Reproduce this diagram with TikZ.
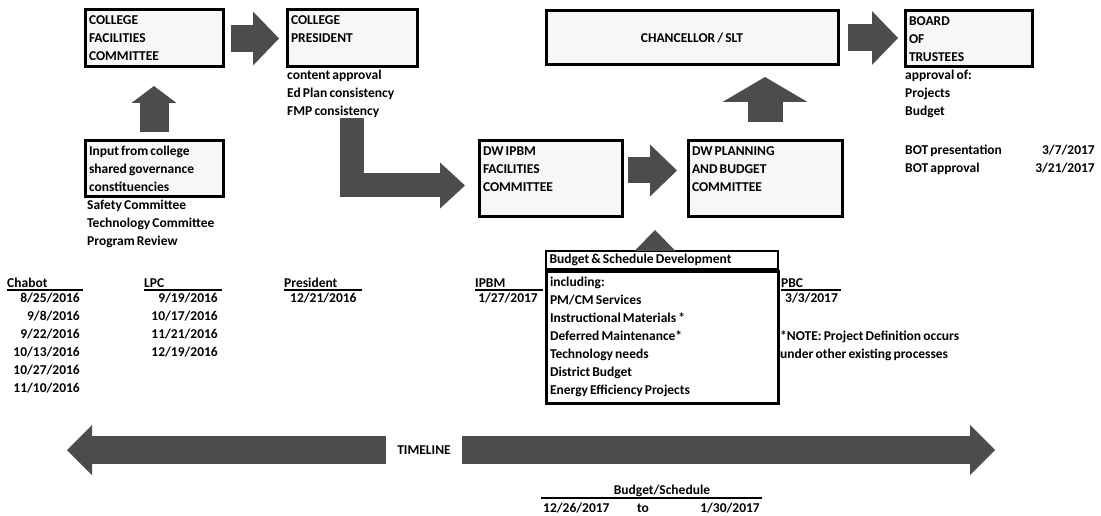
\documentclass[tikz,border=0pt]{standalone}
\usepackage{fontspec}
\setmainfont{Carlito}[WordSpace=0.7]
\usetikzlibrary{arrows.meta,positioning,calc}

\begin{document}
\begin{tikzpicture}[x=1pt,y=-1pt,
  font=\fontsize{13.5}{18}\selectfont\bfseries,
  box/.style={draw, line width=3pt, fill=black!3, anchor=north west, inner xsep=4pt, inner ysep=0pt, align=flush left},
  notes/.style={anchor=north west, inner sep=0pt, align=left},
  colhead/.style={anchor=base west, inner sep=0pt, text width=#1, align=flush left},
  rule/.style={line width=2.5pt},
  blockarrow/.style n args={3}{line width=#1, draw=black!70, -{Triangle[length=#2,width=#3,line width=0pt]}}
]
  \useasboundingbox (0,0) rectangle (1101,516);

  \node[box, text width=130pt, minimum height=57pt] (cfc) at (83.5,8.5) {COLLEGE\\FACILITIES\\COMMITTEE};
  \node[box, text width=122pt, minimum height=57pt] (cp) at (285.5,8.5) {COLLEGE\\PRESIDENT\\~};
  \node[box, text width=284pt, minimum height=54pt, align=flush center] (chancellor) at (544.5,9.5) {CHANCELLOR / SLT};
  \node[box, text width=119pt, minimum height=56pt] (board) at (903.5,9.5) {BOARD\\OF\\TRUSTEES};
  \node[box, text width=130pt, minimum height=56pt] (input) at (83.5,139.5) {Input from college\\shared governance\\constituencies};
  \node[box, text width=135pt, minimum height=75pt] (ipbm) at (477.5,139.5) {DW IPBM\\FACILITIES\\COMMITTEE\\~};
  \node[box, text width=146pt, minimum height=75pt] (pbc) at (686.5,139.5) {DW PLANNING\\AND BUDGET\\COMMITTEE\\~};
  \node[box, fill=white, text width=224pt, minimum height=131.5pt] (budget) at (544.5,270) {including:\\PM/CM Services\\Instructional Materials *\\Deferred Maintenance*\\Technology needs\\District Budget\\Energy Efficiency Projects};
  \node[box, fill=white, line width=2pt, text width=224pt, minimum height=18.5pt, anchor=south west] (budgettitle) at (budget.north west) {Budget \& Schedule Development};

  \node[notes] (cpnotes) at (287,70) {content approval\\Ed Plan consistency\\FMP consistency};
  \node[notes] (inputnotes) at (87,200) {Safety Committee\\Technology Committee\\Program Review};
  \node[notes] (boardnotes) at (905,70) {approval of:\\Projects\\Budget};
  \node[notes] (botlabels) at (905,145) {BOT presentation\\BOT approval};
  \node[notes, anchor=north east, align=right] (botdates) at (1095,145) {3/7/2017\\3/21/2017};
  \node[notes] (note) at (780,331) {*NOTE: Project Definition occurs\\under other existing processes};

  \node[colhead=76pt] (chabot) at (7,287) {Chabot};
  \node[colhead=78pt] (lpc) at (144,287) {LPC};
  \node[colhead=78pt] (president) at (284,287) {President};
  \node[colhead=68pt] (ipbmhead) at (475,287) {IPBM};
  \node[colhead=60pt] (pbchead) at (781,287) {PBC};
  \foreach \h in {chabot,lpc,president,ipbmhead,pbchead}
    \draw[rule] ([yshift=-3pt]\h.base west) -- ([yshift=-3pt]\h.base east);

  \node[notes, anchor=north east, align=right] (chabotdates) at (80,293) {8/25/2016\\9/8/2016\\9/22/2016\\10/13/2016\\10/27/2016\\11/10/2016};
  \node[notes, anchor=north east, align=right] (lpcdates) at (218,293) {9/19/2016\\10/17/2016\\11/21/2016\\12/19/2016};
  \node[notes] (presdate) at (290,293) {12/21/2016};
  \node[notes, anchor=north east] (ipbmdate) at (538,293) {1/27/2017};
  \node[notes] (pbcdate) at (785,293) {3/3/2017};

  \node[anchor=base, inner sep=0pt] (bsched) at (662,494) {Budget/Schedule};
  \draw[rule] ([xshift=-121pt,yshift=-4pt]bsched.base) -- ([xshift=100pt,yshift=-4pt]bsched.base);
  \node[anchor=base west, inner sep=0pt] (bstart) at (543,512) {12/26/2017};
  \node[anchor=base, inner sep=0pt] (bto) at (643,512) {to};
  \node[anchor=base east, inner sep=0pt] (bend) at (760,512) {1/30/2017};

  \coordinate (tlleft) at (67,450);
  \coordinate (tlright) at (995,450);
  \coordinate (merge) at ($(ipbm.south east)!.5!(pbc.south west)$);
  \node[fill=white, minimum width=76pt, inner sep=0pt] (timeline) at (424,450) {TIMELINE};

  \draw[blockarrow={27pt}{26pt}{54pt}, shorten <=6.5pt, shorten >=6.5pt] (cfc.east) -- (cp.west);
  \draw[blockarrow={27pt}{26pt}{54pt}, shorten <=8.5pt, shorten >=5.5pt] (chancellor.east) -- (chancellor.east -| board.west);
  \draw[blockarrow={26pt}{27pt}{52pt}, shorten <=4.5pt, shorten >=9.5pt] ([yshift=8pt]ipbm.east) -- ([yshift=8pt]pbc.west);
  \draw[blockarrow={29pt}{17pt}{45pt}, shorten <=7.5pt, shorten >=17.5pt] (input.north) -- (cfc.south);
  \draw[blockarrow={35pt}{25pt}{85pt}, shorten <=17.5pt, shorten >=10.5pt] (pbc.north) -- (pbc.north |- chancellor.south);
  \draw[blockarrow={13pt}{21pt}{41pt}, shorten >=12.5pt] (budgettitle.north -| merge) -- (merge);
  \draw[blockarrow={24pt}{25pt}{46pt}, line join=miter, shorten >=12.5pt] (cpnotes.south -| cp.south) |- ([yshift=-7pt]ipbm.west);
  \draw[blockarrow={28pt}{25pt}{50pt}] (timeline.west) -- (tlleft);
  \draw[blockarrow={28pt}{25pt}{50pt}] (timeline.east) -- (tlright);
\end{tikzpicture}
\end{document}
